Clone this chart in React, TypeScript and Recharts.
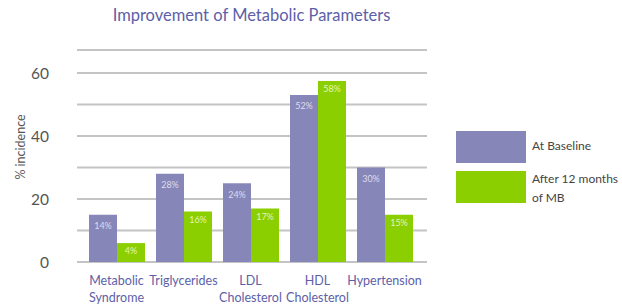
import { BarChart, Bar, XAxis, YAxis, CartesianGrid, LabelList } from 'recharts';

const CATEGORIES = ['Metabolic Syndrome', 'Triglycerides', 'LDL Cholesterol', 'HDL Cholesterol', 'Hypertension'];
const BASELINE = [15, 28, 25, 53, 30];
const AFTER_12M = [6, 16, 17, 57.5, 15];
const BASELINE_LABELS = ['14%', '28%', '24%', '52%', '30%'];
const AFTER_LABELS = ['4%', '16%', '17%', '58%', '15%'];
const Y_TICKS = [0, 10, 20, 30, 40, 50, 60];
const SERIES_NAMES = ['At Baseline', 'After 12 months of MB'];

const PURPLE = '#8786b8';
const GREEN = '#8ccf00';
const FONT = 'Lato, "Open Sans", sans-serif';

const data = CATEGORIES.map((name, i) => ({
  name,
  baseline: BASELINE[i],
  after: AFTER_12M[i],
  baselineLabel: BASELINE_LABELS[i],
  afterLabel: AFTER_LABELS[i],
}));

// two-line tick for names with a space, except single words
function CategoryTick({ x, y, payload }: any) {
  const words = String(payload.value).split(' ');
  return (
    <text x={x} y={y} textAnchor="middle" fill="#5d60a8" fontSize={12.5} fontFamily={FONT}>
      {words.map((w, i) => (
        <tspan key={i} x={x} dy={i === 0 ? 15 : 17}>{w}</tspan>
      ))}
    </text>
  );
}

function LegendBox() {
  const items = [
    { color: PURPLE, lines: [SERIES_NAMES[0]] },
    { color: GREEN, lines: ['After 12 months', 'of MB'] },
  ];
  return (
    <div style={{ position: 'absolute', left: 456, top: 131, width: 166, fontFamily: FONT }}>
      {items.map((it, i) => (
        <div key={i} style={{ display: 'flex', alignItems: 'flex-start', marginBottom: 8 }}>
          <div style={{ width: 70, height: 32, background: it.color, flexShrink: 0 }} />
          <div style={{ marginLeft: 6, fontSize: 12, color: '#444', lineHeight: '19px', marginTop: i === 0 ? 5 : -2 }}>
            {it.lines.map((l, j) => <div key={j}>{l}</div>)}
          </div>
        </div>
      ))}
    </div>
  );
}

const yLabel = () => (
  <text
    x={20}
    y={147}
    transform="rotate(-90, 20, 147)"
    textAnchor="middle"
    dominantBaseline="central"
    fill="#555"
    fontSize={12.5}
    fontFamily={FONT}
  >
    % incidence
  </text>
);

export default function App() {
  return (
    <div style={{ position: 'absolute', left: 0, top: 0, width: 622, height: 305, background: '#fff' }}>
      <div style={{ position: 'absolute', left: 0, top: 5, width: 503, textAlign: 'center', fontFamily: FONT, fontSize: 16.5, color: '#5d60a8' }}>
        Improvement of Metabolic Parameters
      </div>
      <div style={{ position: 'absolute', left: 77, top: 49, width: 350, height: 2, background: '#c4c4c4' }} />
      <BarChart
        width={622}
        height={305}
        data={data}
        margin={{ top: 73, right: 195, bottom: 0, left: 20 }}
        barCategoryGap={6}
        barGap={0}
      >
        <CartesianGrid vertical={false} stroke="#c4c4c4" strokeWidth={2} />
        <XAxis
          dataKey="name"
          axisLine={false}
          tickLine={false}
          interval={0}
          height={43}
          padding={{ left: 6, right: 9 }}
          tick={<CategoryTick />}
        />
        <YAxis
          width={57}
          domain={[0, 60]}
          ticks={Y_TICKS}
          interval={0}
          axisLine={false}
          tickLine={false}
          tickMargin={22}
          tickFormatter={(v: number) => (v % 20 === 0 ? String(v) : '')}
          tick={{ fill: '#555', fontSize: 15.5, fontFamily: FONT }}
          label={{ content: yLabel }}
        />
        <Bar dataKey="baseline" name={SERIES_NAMES[0]} fill={PURPLE} isAnimationActive={false}>
          <LabelList dataKey="baselineLabel" position="insideTop" offset={8} fill="#dcdcf0" fontSize={9} fontFamily={FONT} />
        </Bar>
        <Bar dataKey="after" name={SERIES_NAMES[1]} fill={GREEN} isAnimationActive={false}>
          <LabelList dataKey="afterLabel" position="insideTop" offset={5} fill="#e2f5b8" fontSize={9} fontFamily={FONT} />
        </Bar>
      </BarChart>
      <LegendBox />
    </div>
  );
}
